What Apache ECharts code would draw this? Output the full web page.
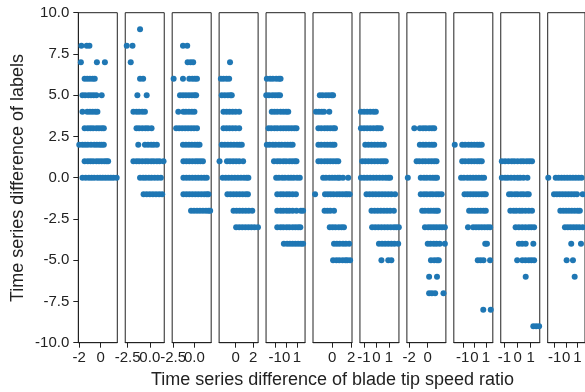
<!DOCTYPE html>
<html>
<head>
<meta charset="utf-8">
<script src="https://cdn.jsdelivr.net/npm/echarts@6/dist/echarts.min.js"></script>
<style>
html, body { margin: 0; padding: 0; background: #fff; }
#chart { width: 585px; height: 392px; }
</style>
</head>
<body>
<div id="chart"></div>
<script>
// each panel: rows of [label difference, [tip speed ratio differences]]
var panel1 = [
    [8, [-1.8, -1.3, -1.05]],
    [7, [-1.85, -0.35, 0.4]],
    [6, [-1.5, -1.25, -1.0, -0.75, -0.55]],
    [5, [-1.7, -1.45, -1.15, -0.9, -0.65, -0.4, 0.1]],
    [4, [-1.7, -1.25, -1.0, -0.75, -0.5, -0.3]],
    [3, [-1.5, -1.2, -0.95, -0.7, -0.4, -0.15, 0.1, 0.3]],
    [2, [-2.0, -1.7, -1.45, -1.2, -0.9, -0.6, -0.35, -0.1, 0.1, 0.3]],
    [1, [-1.5, -1.2, -0.95, -0.7, -0.4, -0.15, 0.1, 0.35, 0.55, 0.7]],
    [0, [-1.7, -1.4, -1.1, -0.85, -0.6, -0.3, -0.05, 0.2, 0.45, 0.7, 0.95, 1.2, 1.5]]
];
var panel2 = [
    [9, [-1.1]],
    [8, [-2.6, -1.95]],
    [7, [-2.15]],
    [6, [-1.1, -0.75]],
    [5, [-1.4, -0.35]],
    [4, [-1.85, -1.5, -1.2, -0.85, -0.55]],
    [3, [-1.5, -1.2, -0.85, -0.5, -0.2, 0.2]],
    [2, [-1.3, -0.55, -0.2, 0.15, 0.45, 0.8]],
    [1, [-1.85, -1.5, -1.2, -0.85, -0.5, -0.2, 0.15, 0.45, 0.8, 1.1, 1.55]],
    [0, [-1.1, -0.75, -0.45, -0.1, 0.2, 0.55, 0.9, 1.25]],
    [-1, [-0.7, -0.35, 0, 0.35, 0.7, 1.05, 1.4]]
];
var panel3 = [
    [8, [-1.35, -0.85]],
    [7, [-0.8, -0.45, -0.15]],
    [6, [-2.45, -1.35, -0.6, -0.25, 0.05, 0.3]],
    [5, [-1.7, -1.35, -1.0, -0.65, -0.3, 0, 0.2]],
    [4, [-1.9, -1.3, -1.0, -0.65, -0.3, 0]],
    [3, [-2.15, -1.8, -1.45, -1.1, -0.75, -0.4, -0.05, 0.3]],
    [2, [-1.35, -1.0, -0.65, -0.3, 0.05, 0.35, 0.6]],
    [1, [-1.3, -0.95, -0.6, -0.25, 0.1, 0.4, 0.7, 1.0]],
    [0, [-1.3, -0.95, -0.6, -0.25, 0.1, 0.45, 0.8, 1.15, 1.45]],
    [-1, [-1.3, -0.95, -0.6, -0.25, 0.1, 0.45, 0.8, 1.15, 1.45, 1.65]],
    [-2, [-0.4, -0.05, 0.3, 0.65, 1.0, 1.35, 1.65, 1.85]]
];
var panel4 = [
    [7, [-0.65]],
    [6, [-1.7, -1.4, -1.05, -0.75]],
    [5, [-1.6, -1.25, -0.9, -0.6, -0.45]],
    [4, [-1.4, -1.05, -0.7, -0.35, 0, 0.4]],
    [3, [-1.4, -1.05, -0.7, -0.35, 0, 0.4]],
    [2, [-1.6, -1.25, -0.9, -0.55, -0.2, 0.15, 0.45, 0.7]],
    [1, [-1.85, -1.0, -0.65, -0.3, 0.05, 0.4, 0.85]],
    [0, [-1.5, -1.15, -0.8, -0.45, -0.1, 0.25, 0.6, 0.95, 1.25, 1.45]],
    [-1, [-0.95, -0.6, -0.25, 0.1, 0.45, 0.8, 1.15, 1.4]],
    [-2, [-0.25, 0.1, 0.45, 0.8, 1.15, 1.5, 1.9]],
    [-3, [0.05, 0.4, 0.75, 1.1, 1.45, 1.8, 2.15, 2.55]]
];
var panel5 = [
    [6, [-1.75, -1.45, -1.2, -0.9, -0.65, -0.5]],
    [5, [-1.8, -1.55, -1.25, -1.0, -0.75, -0.55]],
    [4, [-1.3, -1.05, -0.8, -0.5, -0.25, 0, 0.2]],
    [3, [-1.6, -1.35, -1.05, -0.8, -0.5, -0.25, 0, 0.25, 0.5, 0.75, 0.95]],
    [2, [-1.75, -1.5, -1.2, -0.95, -0.65, -0.4, -0.1, 0.15, 0.4, 0.6]],
    [1, [-1.1, -0.8, -0.55, -0.25, 0, 0.3, 0.55, 0.8, 0.95]],
    [0, [-0.9, -0.65, -0.35, -0.1, 0.2, 0.45, 0.7, 1.0, 1.25]],
    [-1, [-0.8, -0.5, -0.25, 0.05, 0.3, 0.6, 0.9]],
    [-2, [-0.8, -0.5, -0.25, 0.05, 0.3, 0.6, 0.95, 1.35, 1.55]],
    [-3, [-0.8, -0.5, -0.25, 0.05, 0.3, 0.6, 0.85, 1.1, 1.3]],
    [-4, [-0.2, 0.1, 0.35, 0.6, 0.85, 1.1, 1.35, 1.55]]
];
var panel6 = [
    [5, [-1.3, -1.0, -0.65, -0.35, -0.05, 0.1]],
    [4, [-1.7, -1.4, -1.1, -0.85, -0.3]],
    [3, [-1.45, -1.15, -0.8, -0.5, -0.2, 0.1, 0.3]],
    [2, [-1.45, -1.15, -0.8, -0.5, -0.2, 0.05, 0.25]],
    [1, [-1.45, -1.15, -0.8, -0.5, -0.2, 0.1, 0.4, 0.65]],
    [0, [-0.95, -0.65, -0.3, 0, 0.3, 0.6, 0.8, 1.15, 1.7]],
    [-1, [-1.8, -0.75, -0.45, -0.15, 0.15, 0.5, 0.8, 1.1, 1.4, 1.6, 1.85]],
    [-2, [-0.8, -0.5, -0.2, 0.2]],
    [-3, [-0.25, 0.05, 0.35, 0.7, 1.0, 1.25]],
    [-4, [0.2, 0.5, 0.8, 1.15, 1.45, 1.8]],
    [-5, [0.1, 0.45, 0.75, 1.1, 1.4, 1.6, 1.9]]
];
var panel7 = [
    [4, [-1.25, -1.0, -0.75, -0.5, -0.25, -0.05]],
    [3, [-1.25, -1.0, -0.75, -0.5, -0.25, 0, 0.15, 0.35]],
    [2, [-0.9, -0.65, -0.4, -0.15, 0.1, 0.35, 0.6]],
    [1, [-1.15, -0.9, -0.65, -0.4, -0.15, 0.1, 0.35, 0.55, 0.75]],
    [0, [-1.25, -1.0, -0.75, -0.5, -0.25, 0, 0.25, 0.5, 0.75, 0.95, 1.1]],
    [-1, [-0.8, -0.55, -0.3, -0.05, 0.2, 0.45, 0.7, 0.95, 1.2, 1.5]],
    [-2, [-0.4, -0.15, 0.1, 0.35, 0.6, 0.85, 1.1, 1.4]],
    [-3, [-0.35, -0.1, 0.15, 0.4, 0.65, 0.9, 1.15, 1.4, 1.6, 1.8]],
    [-4, [0.2, 0.45, 0.7, 0.95, 1.2, 1.45, 1.75]],
    [-5, [0.4, 0.95, 1.2]]
];
var panel8 = [
    [3, [-1.45, -0.85, -0.5, -0.2, 0.15, 0.45, 0.7]],
    [2, [-0.85, -0.5, -0.2, 0.15, 0.45, 0.7]],
    [1, [-1.2, -0.9, -0.55, -0.25, 0.1, 0.4, 0.7, 0.95]],
    [0, [-2.15, -0.75, -0.4, -0.1, 0.25, 0.55, 0.8, 1.0]],
    [-1, [-0.75, -0.4, -0.1, 0.25, 0.55, 0.9, 1.2, 1.5]],
    [-2, [-0.6, -0.3, 0.05, 0.35, 0.65, 0.9, 1.1]],
    [-3, [-0.3, 0.05, 0.35, 0.65, 0.95, 1.25, 1.55, 1.85]],
    [-4, [0, 0.3, 0.65, 0.95, 1.3, 1.85]],
    [-5, [0.35, 0.7, 1.0, 1.2]],
    [-6, [0.15, 1.0]],
    [-7, [0.15, 0.45, 0.8, 1.7]]
];
var panel9 = [
    [2, [-1.7, -1.05, -0.8, -0.5, -0.25, 0, 0.25, 0.45, 0.65]],
    [1, [-1.05, -0.8, -0.5, -0.25, 0, 0.25, 0.45, 0.65]],
    [0, [-1.15, -0.9, -0.6, -0.35, -0.1, 0.15, 0.4, 0.65, 0.85]],
    [-1, [-0.85, -0.6, -0.35, -0.1, 0.15, 0.4, 0.65, 0.85, 1.0]],
    [-2, [-0.45, -0.2, 0.05, 0.3, 0.55, 0.8, 1.0]],
    [-3, [-0.55, -0.1, 0.15, 0.4, 0.65, 0.9, 1.15, 1.37]],
    [-4, [0.95, 1.1]],
    [-5, [0.3, 0.55, 0.8, 1.37]],
    [-8, [0.78, 1.43]]
];
var panel10 = [
    [1, [-1.2, -0.95, -0.7, -0.45, -0.25, 0, 0.25, 0.45, 0.7, 0.9, 1.1]],
    [0, [-1.2, -0.95, -0.75, -0.5, -0.25, 0, 0.2, 0.45, 0.75]],
    [-1, [-0.65, -0.45, -0.2, 0, 0.25, 0.45, 0.7, 0.85]],
    [-2, [-0.55, -0.3, -0.1, 0.15, 0.35, 0.6, 0.85, 1.1]],
    [-3, [-0.15, 0.1, 0.35, 0.6, 0.85, 1.05, 1.26]],
    [-4, [0.1, 0.35, 0.62, 1.2]],
    [-5, [-0.03, 0.36, 0.6, 0.85, 1.05, 1.26]],
    [-6, [0.62]],
    [-9, [1.2, 1.42, 1.64]]
];
var panel11 = [
    [0, [-1.55, -0.9, -0.65, -0.4, -0.15, 0.1, 0.35, 0.6, 0.85, 1.1, 1.35]],
    [-1, [-1.05, -0.8, -0.55, -0.3, -0.05, 0.2, 0.45, 0.7, 0.95, 1.45]],
    [-2, [-0.5, -0.25, 0, 0.25, 0.5, 0.75, 1.0, 1.2]],
    [-3, [-0.1, 0.15, 0.4, 0.65, 0.9, 1.15, 1.45]],
    [-4, [0.45, 1.3]],
    [-5, [0.05, 0.6]],
    [-6, [0.75]]
];

var panels = [panel1, panel2, panel3, panel4, panel5, panel6, panel7, panel8, panel9, panel10, panel11];
var xMins = [-2.09, -2.77, -2.62, -1.9, -1.82, -2.02, -1.33, -2.25, -1.78, -1.28, -1.6];
var xMaxs = [1.56, 1.63, 1.97, 2.57, 1.73, 2.1, 1.81, 1.96, 1.61, 1.69, 1.65];
var xTicks = [[-2, 0], [-2.5, 0], [-2.5, 0], [0, 2], [-1, 0, 1], [0, 2],
              [-1, 0, 1], [-2, 0], [-1, 0, 1], [-1, 0, 1], [-1, 0, 1]];
var xDecimals = [0, 1, 1, 0, 0, 0, 0, 0, 0, 0, 0];

var xTitle = 'Time series difference of blade tip speed ratio';
var yTitle = 'Time series difference of labels';

var myChart = echarts.init(document.getElementById('chart'));
var font = '"Liberation Sans", Arial, sans-serif';
var ink = '#222';
var gridH = 330;

var grids = [], xAxes = [], yAxes = [], series = [], extraAxes = [];
panels.forEach(function (rows, i) {
    grids.push({
        left: 78.3 + i * 46.94, top: 12.7, width: 39, height: gridH,
        show: true, borderColor: ink, borderWidth: 1
    });
    var dec = xDecimals[i];
    var ticks = xTicks[i];
    var fmt = function (v) { return v.toFixed(dec); };
    // last tick label goes on a twin axis so ECharts does not drop overlapping labels
    xAxes.push({
        type: 'value', gridIndex: i, min: xMins[i], max: xMaxs[i],
        position: 'bottom',
        splitLine: {show: false},
        axisLine: {show: true, onZero: false, lineStyle: {color: ink}},
        axisTick: {show: true, length: 5, lineStyle: {color: ink}, customValues: ticks},
        axisLabel: {
            customValues: ticks.slice(0, -1), margin: 8, color: ink, fontSize: 15, fontFamily: font,
            formatter: fmt
        }
    });
    extraAxes.push({
        type: 'value', gridIndex: i, min: xMins[i], max: xMaxs[i],
        position: 'top', offset: -gridH,
        splitLine: {show: false},
        axisLine: {show: false, onZero: false},
        axisTick: {show: false},
        axisLabel: {
            inside: true, customValues: ticks.slice(-1), margin: 8, color: ink, fontSize: 15,
            fontFamily: font, formatter: fmt
        }
    });
    yAxes.push({
        type: 'value', gridIndex: i, min: -10, max: 10, interval: 2.5,
        position: 'left',
        splitLine: {show: false},
        axisLine: {show: i === 0, onZero: false, lineStyle: {color: ink}},
        axisTick: {show: i === 0, length: 5, lineStyle: {color: ink}},
        axisLabel: {
            show: i === 0, margin: 9, color: ink, fontSize: 15, fontFamily: font,
            formatter: function (v) { return v.toFixed(1); }
        }
    });
    var pts = [];
    rows.forEach(function (r) {
        r[1].forEach(function (x) { pts.push([x, r[0]]); });
    });
    series.push({
        type: 'scatter', xAxisIndex: i, yAxisIndex: i,
        symbolSize: 6, data: pts,
        itemStyle: {color: '#1f77b4', opacity: 1},
        emphasis: {disabled: true}
    });
});

var option = {
    animation: false,
    backgroundColor: '#fff',
    grid: grids,
    xAxis: xAxes.concat(extraAxes),
    yAxis: yAxes,
    series: series,
    graphic: [{
        type: 'text', x: 18, y: 178, rotation: Math.PI / 2,
        style: {
            text: yTitle, font: '18px ' + font, fill: ink,
            align: 'center', verticalAlign: 'middle',
            textAlign: 'center', textVerticalAlign: 'middle'
        }
    }, {
        type: 'text', x: 332.5, y: 380,
        style: {
            text: xTitle, font: '18px ' + font, fill: ink,
            align: 'center', verticalAlign: 'middle',
            textAlign: 'center', textVerticalAlign: 'middle'
        }
    }]
};

myChart.setOption(option);
</script>
</body>
</html>
